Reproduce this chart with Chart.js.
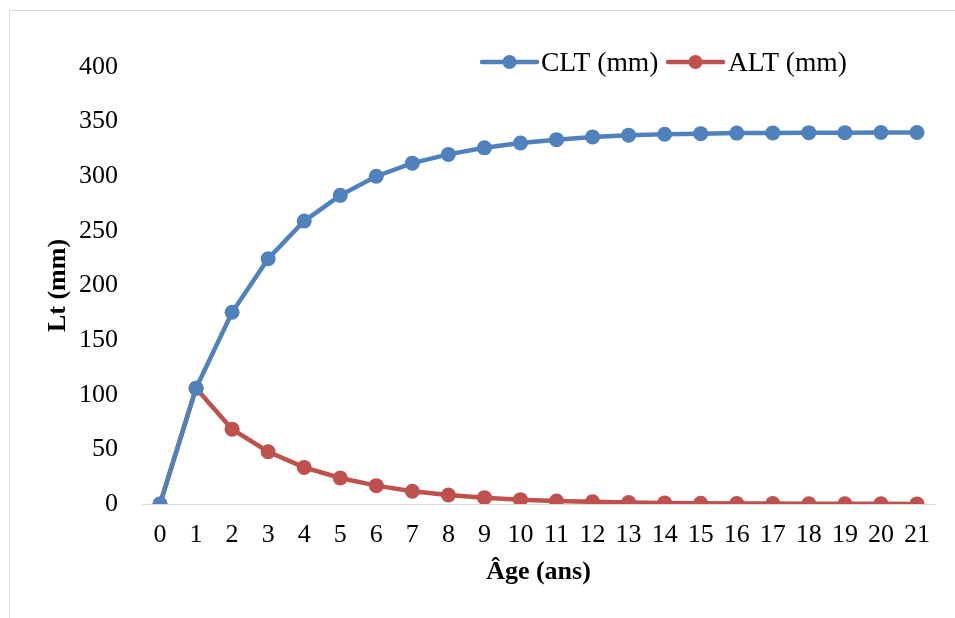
<!DOCTYPE html>
<html>
<head>
<meta charset="utf-8">
<script src="https://cdn.jsdelivr.net/npm/chart.js@4/dist/chart.umd.min.js"></script>
<style>
  html, body { margin: 0; padding: 0; background: #ffffff; }
  #wrap { width: 955px; height: 618px; position: relative; }
</style>
</head>
<body>
<div id="wrap"><canvas id="c" width="955" height="618"></canvas></div>
<script>
const ages = ['0','1','2','3','4','5','6','7','8','9','10','11','12','13','14','15','16','17','18','19','20','21'];
const cltValues = [0, 106, 175.5, 224.5, 259, 282.5, 300, 312, 320, 326, 330.5, 333.5, 336, 337.6, 338.4, 339, 339.5, 339.7, 339.9, 339.9, 340, 340];
const altValues = [0, 106, 68.5, 47.8, 33.5, 23.8, 16.8, 11.7, 8.2, 5.8, 4.0, 2.8, 2.0, 1.4, 1.0, 0.7, 0.5, 0.35, 0.25, 0.17, 0.12, 0.08];
const yTicks = [0, 50, 100, 150, 200, 250, 300, 350, 400];
const seriesLabels = ['CLT (mm)', 'ALT (mm)'];
const xTitle = 'Âge (ans)';
const yTitle = 'Lt (mm)';

const BLUE = '#4F81BD';
const RED = '#C0504D';
const FONT = '"Liberation Serif", "Times New Roman", serif';

const framePlugin = {
  id: 'frame',
  beforeDraw(chart) {
    const ctx = chart.ctx;
    ctx.save();
    ctx.strokeStyle = '#d9d9d9';
    ctx.lineWidth = 1;
    ctx.beginPath();
    ctx.moveTo(9.5, 618);
    ctx.lineTo(9.5, 10.5);
    ctx.lineTo(955, 10.5);
    ctx.stroke();
    ctx.restore();
  }
};

const legendPlugin = {
  id: 'customLegend',
  afterDraw(chart) {
    const ctx = chart.ctx;
    const items = [
      { lineX0: 482, lineX1: 537, textX: 541 },
      { lineX0: 668, lineX1: 723, textX: 728 }
    ];
    const cy = 62;
    ctx.save();
    chart.data.datasets.forEach((ds, i) => {
      const it = items[i];
      ctx.strokeStyle = ds.borderColor;
      ctx.lineWidth = 4.5;
      ctx.lineCap = 'round';
      ctx.beginPath();
      ctx.moveTo(it.lineX0, cy);
      ctx.lineTo(it.lineX1, cy);
      ctx.stroke();
      ctx.fillStyle = ds.backgroundColor;
      ctx.beginPath();
      ctx.arc((it.lineX0 + it.lineX1) / 2, cy, 7, 0, Math.PI * 2);
      ctx.fill();
      ctx.fillStyle = '#000000';
      ctx.font = '27.5px ' + FONT;
      ctx.textAlign = 'left';
      ctx.textBaseline = 'alphabetic';
      ctx.fillText(ds.label, it.textX, 71);
    });
    ctx.restore();
  }
};

new Chart(document.getElementById('c'), {
  type: 'line',
  data: {
    labels: ages,
    datasets: [
      {
        label: seriesLabels[0],
        data: cltValues,
        borderColor: BLUE,
        backgroundColor: BLUE,
        borderWidth: 4.5,
        pointRadius: 7.5,
        pointBorderWidth: 0,
        pointBackgroundColor: BLUE,
        tension: 0
      },
      {
        label: seriesLabels[1],
        data: altValues,
        borderColor: RED,
        backgroundColor: RED,
        borderWidth: 4.5,
        pointRadius: 7.5,
        pointBorderWidth: 0,
        pointBackgroundColor: RED,
        tension: 0
      }
    ]
  },
  options: {
    responsive: false,
    animation: false,
    devicePixelRatio: 1,
    layout: { padding: { left: 10, right: 20, top: 67, bottom: 0 } },
    plugins: {
      legend: { display: false },
      tooltip: { enabled: false }
    },
    scales: {
      x: {
        type: 'category',
        offset: true,
        grid: { display: true, drawOnChartArea: false, drawTicks: false },
        border: { display: true, color: '#d9d9d9', width: 1 },
        ticks: {
          color: '#000000',
          font: { family: FONT, size: 26 },
          padding: 16,
          maxRotation: 0,
          autoSkip: false
        },
        title: {
          display: true,
          text: xTitle,
          color: '#000000',
          font: { family: FONT, size: 26, weight: 'bold' },
          padding: { top: 0, bottom: 30 }
        },
        afterFit(scale) { scale.height = 114; }
      },
      y: {
        min: 0,
        max: 400,
        afterBuildTicks(scale) { scale.ticks = yTicks.map(v => ({ value: v })); },
        grid: { display: false, drawTicks: false },
        border: { display: false },
        ticks: {
          color: '#000000',
          font: { family: FONT, size: 26 },
          padding: 24
        },
        title: {
          display: true,
          text: yTitle,
          color: '#000000',
          font: { family: FONT, size: 26, weight: 'bold' },
          padding: { top: 33, bottom: 0 }
        },
        afterFit(scale) { scale.width = 132; }
      }
    }
  },
  plugins: [framePlugin, legendPlugin]
});
</script>
</body>
</html>
